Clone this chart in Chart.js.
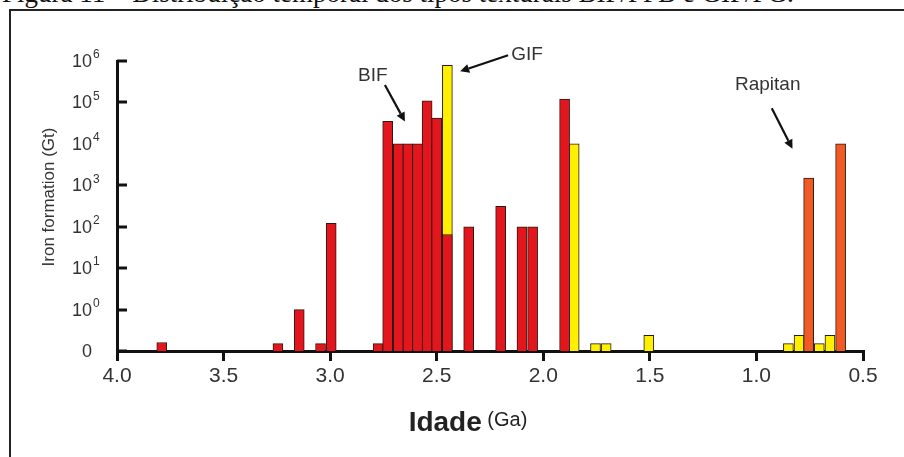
<!DOCTYPE html>
<html><head><meta charset="utf-8">
<script src="https://cdn.jsdelivr.net/npm/chart.js@4.4.1/dist/chart.umd.min.js"></script>
<style>
html,body{margin:0;padding:0;background:#fff;width:904px;height:457px;overflow:hidden;}
#wrap{position:relative;width:904px;height:457px;overflow:hidden;}
#cap{position:absolute;left:2px;top:-22px;font:27px 'Liberation Serif','Times New Roman',serif;color:#111;white-space:nowrap;}
#frame{position:absolute;left:9px;top:9px;width:1000px;height:1000px;border-left:2px solid #222;border-top:2px solid #222;}
canvas{position:absolute;left:0;top:0;}
</style></head><body>
<div id="wrap">
<div id="cap">Figura 11 – Distribuição temporal dos tipos texturais BIF/PFB e GIF/PG.</div>
<div id="frame"></div>
<canvas id="c" width="904" height="457"></canvas>
</div>
<script>
// ---- data (ages in Ga, iron formation in Gt) ----
const bifAges   = [3.79, 3.245, 3.145, 3.045, 2.995, 2.775, 2.73, 2.68, 2.635, 2.59, 2.545, 2.5, 2.45, 2.35, 2.2, 2.1, 2.05, 1.9];
const bifValues = [0.16, 0.15, 1, 0.15, 120, 0.15, 35000, 10000, 10000, 10000, 110000, 42000, 65, 100, 310, 100, 100, 120000];
const gifAges   = [2.45, 1.855, 1.755, 1.705, 1.505, 0.85, 0.8, 0.705, 0.655];
const gifValues = [790000, 10000, 0.15, 0.15, 0.24, 0.15, 0.24, 0.15, 0.24];
const rapAges   = [0.755, 0.605];
const rapValues = [1500, 10000];
const xTicks = [4.0, 3.5, 3.0, 2.5, 2.0, 1.5, 1.0, 0.5];
const yTickBases = ['0', '10', '10', '10', '10', '10', '10', '10'];
const yTickExps  = ['', '0', '1', '2', '3', '4', '5', '6'];
const yTickMarks = [0, 1, 2, 3, 4, 6, 7];

const FONT = "'Liberation Sans', Arial, Helvetica, sans-serif";

// "0" occupies one decade below 10^0 on this pseudo-log axis
const toPos = v => v <= 0 ? 0 : Math.max(0, Math.log10(v) + 1);
const mk = (ages, vals) => ages.map((a, i) => ({x: a, y: toPos(vals[i])}));

const annotations = [
  {text: 'BIF', x: 2.80, y: 6.65, from: [2.743, 6.42], to: [2.649, 5.54]},
  {text: 'GIF', x: 2.076, y: 7.14, from: [2.165, 7.14], to: [2.39, 6.75]},
  {text: 'Rapitan', x: 0.947, y: 6.42, from: [0.928, 5.86], to: [0.831, 4.88]}
];

function arrow(ctx, x0, y0, x1, y1) {
  const ang = Math.atan2(y1 - y0, x1 - x0), L = 9, W = 4.5;
  const bx = x1 - L * Math.cos(ang), by = y1 - L * Math.sin(ang);
  ctx.beginPath(); ctx.moveTo(x0, y0); ctx.lineTo(bx, by); ctx.stroke();
  ctx.beginPath();
  ctx.moveTo(x1, y1);
  ctx.lineTo(bx + W * Math.sin(ang), by - W * Math.cos(ang));
  ctx.lineTo(bx - W * Math.sin(ang), by + W * Math.cos(ang));
  ctx.closePath(); ctx.fill();
}

const deco = {
  id: 'deco',
  afterDraw(chart) {
    const {ctx, chartArea: a, scales: {x, y}} = chart;
    ctx.save();
    // inward y tick marks
    ctx.strokeStyle = '#111'; ctx.lineWidth = 3;
    yTickMarks.forEach(u => {
      const py = Math.round(y.getPixelForValue(u));
      ctx.beginPath(); ctx.moveTo(a.left, py); ctx.lineTo(a.left + 10, py); ctx.stroke();
    });
    // y tick labels with superscripts
    ctx.fillStyle = '#333'; ctx.textBaseline = 'middle';
    yTickBases.forEach((b, i) => {
      const py = y.getPixelForValue(i);
      ctx.font = '18px ' + FONT; ctx.textAlign = 'right';
      ctx.fillText(b, a.left - 25, py + 1);
      if (yTickExps[i]) {
        ctx.font = '12px ' + FONT; ctx.textAlign = 'left';
        ctx.fillText(yTickExps[i], a.left - 24, py - 6);
      }
    });
    // y title
    ctx.save();
    ctx.translate(49, 197);
    ctx.rotate(-Math.PI / 2);
    ctx.font = '17px ' + FONT; ctx.textAlign = 'center'; ctx.textBaseline = 'middle';
    ctx.fillText('Iron formation (Gt)', 0, 0);
    ctx.restore();
    // x title
    ctx.textBaseline = 'alphabetic'; ctx.textAlign = 'left'; ctx.fillStyle = '#222';
    const f1 = 'bold 28px ' + FONT, f2 = '20px ' + FONT;
    ctx.font = f1; const w1 = ctx.measureText('Idade').width;
    ctx.font = f2; const w2 = ctx.measureText(' (Ga)').width;
    const cx = 468, sx = cx - (w1 + w2) / 2;
    ctx.font = f1; ctx.fillText('Idade', sx, 431);
    ctx.font = f2; ctx.fillText(' (Ga)', sx + w1, 426);
    // annotations
    ctx.strokeStyle = '#111'; ctx.lineWidth = 2.2;
    ctx.font = '19px ' + FONT; ctx.textAlign = 'center'; ctx.textBaseline = 'middle';
    annotations.forEach(n => {
      ctx.fillStyle = '#333';
      ctx.fillText(n.text, x.getPixelForValue(n.x), y.getPixelForValue(n.y));
      ctx.fillStyle = '#111';
      arrow(ctx, x.getPixelForValue(n.from[0]), y.getPixelForValue(n.from[1]),
                 x.getPixelForValue(n.to[0]), y.getPixelForValue(n.to[1]));
    });
    ctx.restore();
  }
};

const barCommon = {borderWidth: 1, borderColor: '#2a1a12', barThickness: 10, grouped: false, borderSkipped: 'start'};

new Chart(document.getElementById('c'), {
  type: 'bar',
  data: {
    datasets: [
      Object.assign({label: 'BIF', data: mk(bifAges, bifValues), backgroundColor: '#E3161E', order: 1}, barCommon),
      Object.assign({label: 'GIF', data: mk(gifAges, gifValues), backgroundColor: '#FFF000', order: 2}, barCommon),
      Object.assign({label: 'Rapitan', data: mk(rapAges, rapValues), backgroundColor: '#F15A24', order: 1}, barCommon)
    ]
  },
  options: {
    responsive: false, animation: false, devicePixelRatio: 1,
    layout: {padding: {top: 61, right: 41, left: 0, bottom: 0}},
    plugins: {legend: {display: false}, tooltip: {enabled: false}},
    scales: {
      x: {
        type: 'linear', min: 0.5, max: 4.0, reverse: true, offset: false,
        afterBuildTicks: s => { s.ticks = xTicks.map(v => ({value: v})); },
        afterFit: s => { s.height = 106; },
        ticks: {callback: v => Number(v).toFixed(1), color: '#333', font: {family: FONT, size: 21}, padding: 3, maxRotation: 0, autoSkip: false},
        grid: {display: true, offset: false, drawOnChartArea: false, drawTicks: true, tickLength: 10, lineWidth: 3, color: '#111'},
        border: {display: true, width: 3, color: '#111'}
      },
      y: {
        type: 'linear', min: 0, max: 7,
        afterFit: s => { s.width = 117; },
        ticks: {display: false},
        grid: {display: false},
        border: {display: true, width: 3, color: '#111'}
      }
    }
  },
  plugins: [deco]
});
</script>
</body></html>
